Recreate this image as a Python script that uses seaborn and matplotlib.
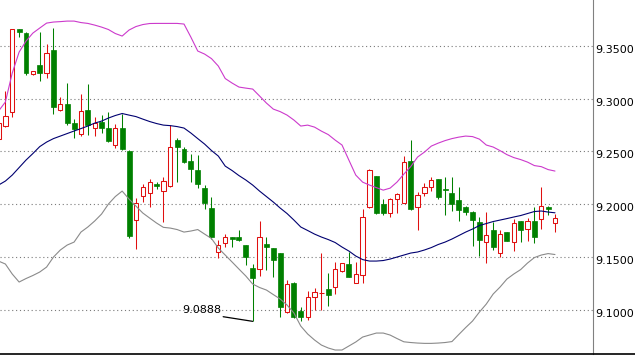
import pandas as pd
import numpy as np
import matplotlib
matplotlib.use('Agg')
import matplotlib.pyplot as plt
import matplotlib.transforms as mtransforms
import seaborn as sns

# candle data
opens = [9.2618, 9.2741, 9.2877, 9.3661, 9.3626, 9.3231, 9.3320, 9.3247, 9.3462, 9.2895,
         9.2950, 9.2766, 9.2665, 9.2893, 9.2719, 9.2776, 9.2719, 9.2560, 9.2719, 9.2504,
         9.1849, 9.2077, 9.2102, 9.2188, 9.2124, 9.2172, 9.2608, 9.2523, 9.2409, 9.2323,
         9.2150, 9.1966, 9.1548, 9.1628, 9.1687, 9.1687, 9.1612, 9.1390, 9.1381, 9.1621,
         9.1580, 9.1533, 9.0979, 9.1254, 9.0986, 9.0932, 9.1121, 9.1154, 9.1192, 9.1216,
         9.1365, 9.1432, 9.1254, 9.1327, 9.1975, 9.2266, 9.1998, 9.1918, 9.2045, 9.2013,
         9.2409, 9.1975, 9.2102, 9.2159, 9.2238, 9.2141, 9.2102, 9.2039, 9.1975, 9.1925,
         9.1827, 9.1643, 9.1754, 9.1533, 9.1738, 9.1643, 9.1839, 9.1760, 9.1839, 9.1855,
         9.1975, 9.1817]
highs = [9.2874, 9.3073, 9.3665, 9.3665, 9.3630, 9.3266, 9.3636, 9.3519, 9.3668, 9.3013,
         9.3146, 9.2804, 9.3042, 9.3139, 9.2829, 9.2845, 9.2871, 9.2760, 9.2855, 9.2513,
         9.2055, 9.2188, 9.2235, 9.2212, 9.2254, 9.2750, 9.2630, 9.2545, 9.2475, 9.2466,
         9.2181, 9.2064, 9.1659, 9.1713, 9.1690, 9.1754, 9.1615, 9.1432, 9.1842, 9.1690,
         9.1585, 9.1540, 9.1280, 9.1264, 9.1020, 9.1175, 9.1201, 9.1533, 9.1343, 9.1447,
         9.1445, 9.1548, 9.1447, 9.1950, 9.2330, 9.2270, 9.2048, 9.2055, 9.2108, 9.2456,
         9.2608, 9.2112, 9.2203, 9.2254, 9.2242, 9.2254, 9.2254, 9.2159, 9.1978, 9.1934,
         9.1880, 9.1928, 9.1833, 9.1754, 9.1740, 9.1855, 9.1842, 9.1865, 9.1975, 9.2165,
         9.1980, 9.1906]
lows = [9.2599, 9.2731, 9.2829, 9.3588, 9.3225, 9.3222, 9.3171, 9.3199, 9.2852, 9.2887,
        9.2748, 9.2630, 9.2646, 9.2655, 9.2649, 9.2677, 9.2592, 9.2529, 9.2513, 9.1675,
        9.1571, 9.2023, 9.1970, 9.2143, 9.1827, 9.2159, 9.2212, 9.2393, 9.2212, 9.2150,
        9.1950, 9.1666, 9.1485, 9.1595, 9.1595, 9.1652, 9.1422, 9.0888, 9.1320, 9.1375,
        9.1311, 9.0926, 9.0967, 9.0916, 9.0895, 9.0898, 9.0995, 9.0995, 9.1036, 9.1147,
        9.1360, 9.1305, 9.1250, 9.1248, 9.1963, 9.1906, 9.1896, 9.1880, 9.1918, 9.2007,
        9.1945, 9.1754, 9.2077, 9.2127, 9.2048, 9.1896, 9.1937, 9.1842, 9.1896, 9.1607,
        9.1507, 9.1438, 9.1564, 9.1495, 9.1650, 9.1557, 9.1643, 9.1649, 9.1633, 9.1766,
        9.1893, 9.1738]
closes = [9.2769, 9.2836, 9.3661, 9.3636, 9.3241, 9.3263, 9.3247, 9.3436, 9.2924, 9.2947,
          9.2766, 9.2712, 9.2883, 9.2750, 9.2772, 9.2719, 9.2601, 9.2719, 9.2523, 9.1700,
          9.2013, 9.2159, 9.2207, 9.2174, 9.2219, 9.2545, 9.2545, 9.2402, 9.2333, 9.2188,
          9.2007, 9.1690, 9.1609, 9.1690, 9.1666, 9.1659, 9.1500, 9.1296, 9.1690, 9.1595,
          9.1469, 9.1020, 9.1239, 9.0932, 9.0932, 9.1121, 9.1163, 9.1160, 9.1137, 9.1381,
          9.1438, 9.1311, 9.1336, 9.1875, 9.2323, 9.1912, 9.1915, 9.2045, 9.2096, 9.2396,
          9.1950, 9.2086, 9.2159, 9.2229, 9.2070, 9.2136, 9.2001, 9.1944, 9.1928, 9.1852,
          9.1659, 9.1706, 9.1595, 9.1716, 9.1652, 9.1817, 9.1754, 9.1842, 9.1690, 9.1982,
          9.1950, 9.1865]

# bollinger bands
upper = [9.2883, 9.2969, 9.3244, 9.3443, 9.3547, 9.3623, 9.3671, 9.3718, 9.3728, 9.3732,
         9.3737, 9.3737, 9.3723, 9.3715, 9.3699, 9.3680, 9.3657, 9.3619, 9.3595, 9.3652,
         9.3685, 9.3704, 9.3714, 9.3715, 9.3715, 9.3715, 9.3715, 9.3709, 9.3585, 9.3453,
         9.3424, 9.3381, 9.3310, 9.3192, 9.3149, 9.3111, 9.3101, 9.3092, 9.3026, 9.2959,
         9.2902, 9.2878, 9.2845, 9.2798, 9.2741, 9.2750, 9.2731, 9.2693, 9.2660, 9.2608,
         9.2561, 9.2418, 9.2276, 9.2209, 9.2181, 9.2157, 9.2133, 9.2152, 9.2209, 9.2285,
         9.2356, 9.2447, 9.2494, 9.2551, 9.2579, 9.2603, 9.2622, 9.2636, 9.2646, 9.2641,
         9.2617, 9.2561, 9.2542, 9.2508, 9.2470, 9.2442, 9.2423, 9.2399, 9.2366, 9.2356,
         9.2328, 9.2314]
middle = [9.2181, 9.2219, 9.2276, 9.2347, 9.2418, 9.2480, 9.2546, 9.2589, 9.2622, 9.2646,
          9.2670, 9.2694, 9.2717, 9.2741, 9.2769, 9.2788, 9.2817, 9.2841, 9.2860, 9.2845,
          9.2831, 9.2807, 9.2784, 9.2765, 9.2750, 9.2745, 9.2736, 9.2722, 9.2675, 9.2622,
          9.2570, 9.2509, 9.2456, 9.2361, 9.2319, 9.2271, 9.2229, 9.2181, 9.2124, 9.2072,
          9.2020, 9.1963, 9.1911, 9.1849, 9.1783, 9.1750, 9.1716, 9.1688, 9.1664, 9.1636,
          9.1593, 9.1555, 9.1508, 9.1474, 9.1460, 9.1460, 9.1465, 9.1479, 9.1498, 9.1517,
          9.1536, 9.1546, 9.1565, 9.1588, 9.1617, 9.1640, 9.1669, 9.1702, 9.1735, 9.1764,
          9.1797, 9.1816, 9.1835, 9.1849, 9.1863, 9.1878, 9.1892, 9.1911, 9.1930, 9.1935,
          9.1925, 9.1918]
lower = [9.1460, 9.1432, 9.1337, 9.1261, 9.1294, 9.1323, 9.1356, 9.1403, 9.1498, 9.1565,
         9.1612, 9.1640, 9.1735, 9.1783, 9.1840, 9.1906, 9.2001, 9.2072, 9.2124, 9.2048,
         9.1982, 9.1916, 9.1868, 9.1821, 9.1780, 9.1773, 9.1759, 9.1735, 9.1745, 9.1759,
         9.1716, 9.1674, 9.1583, 9.1517, 9.1451, 9.1384, 9.1318, 9.1242, 9.1209, 9.1185,
         9.1142, 9.1100, 9.1043, 9.0967, 9.0843, 9.0768, 9.0711, 9.0663, 9.0635, 9.0616,
         9.0616, 9.0654, 9.0692, 9.0739, 9.0758, 9.0777, 9.0777, 9.0758, 9.0725, 9.0694,
         9.0687, 9.0682, 9.0679, 9.0679, 9.0682, 9.0687, 9.0696, 9.0763, 9.0829, 9.0891,
         9.0976, 9.1052, 9.1147, 9.1213, 9.1289, 9.1337, 9.1379, 9.1441, 9.1493, 9.1517,
         9.1531, 9.1522]

yticks = [9.10, 9.15, 9.20, 9.25, 9.30, 9.35, 9.40]
low_label_idx = 37

UP = '#e01010'
DOWN = '#008000'

sns.set_style('white')
plt.rcParams['font.family'] = ['DejaVu Sans']

fig = plt.figure(figsize=(6.35, 3.56), dpi=100)
ax = fig.add_axes([0, 2.3 / 356, 592.7 / 635, 363.7 / 356])

idx = np.arange(len(opens))
o = np.array(opens); c = np.array(closes)
h = np.array(highs); l = np.array(lows)
up = c >= o

# gridlines
for v in yticks:
    ax.axhline(v, color='#7a7a7a', lw=0.8, ls=(0, (1, 2.5)), zorder=0)

# wicks
ax.vlines(idx[up], l[up], h[up], color=UP, lw=0.75, zorder=2)
ax.vlines(idx[~up], l[~up], h[~up], color=DOWN, lw=0.75, zorder=2)

# bodies
ax.bar(idx[up], np.maximum(c[up] - o[up], 0.0003), bottom=o[up], width=0.62,
       facecolor='white', edgecolor=UP, linewidth=0.75, zorder=3)
ax.bar(idx[~up], np.maximum(o[~up] - c[~up], 0.0003), bottom=c[~up], width=0.72,
       facecolor=DOWN, edgecolor=DOWN, linewidth=0.5, zorder=3)

# bands
bands = pd.DataFrame({
    'idx': np.tile(idx, 3),
    'value': upper + middle + lower,
    'band': ['upper'] * len(upper) + ['middle'] * len(middle) + ['lower'] * len(lower),
})
sns.lineplot(data=bands, x='idx', y='value', hue='band',
             palette={'upper': '#cc3acc', 'middle': '#000070', 'lower': '#8a8a8a'},
             linewidth=0.8, legend=False, ax=ax, zorder=4)

# low annotation
ax.annotate('', xy=(low_label_idx, lows[low_label_idx]), xytext=(32.7, 9.0932),
            arrowprops=dict(arrowstyle='-', color='black', lw=0.9, shrinkA=0, shrinkB=0),
            zorder=5)
ax.text(32.45, 9.0964, f'{lows[low_label_idx]:.4f}', ha='right', va='baseline',
        fontsize=8, color='black', zorder=5)

ax.set_xlim(0.218, 86.49)
ax.set_ylim(9.0581, 9.4032)
ax.set_xlabel('')
ax.set_ylabel('')
ax.set_xticks([])
ax.yaxis.tick_right()
ax.set_yticks(yticks)
ax.set_yticklabels([f'{v:.4f}' for v in yticks])
ax.tick_params(axis='y', length=0, pad=2, labelsize=8, labelcolor='black')
offset = mtransforms.ScaledTranslation(0, -3 / 100, fig.dpi_scale_trans)
for lbl in ax.get_yticklabels():
    lbl.set_transform(lbl.get_transform() + offset)

for s in ['left', 'top', 'bottom']:
    ax.spines[s].set_visible(False)
ax.spines['right'].set_color('#808080')
ax.spines['right'].set_linewidth(0.8)

# bottom frame line runs under the price scale too
fig.add_artist(plt.Line2D([0, 1], [2.3 / 356, 2.3 / 356], transform=fig.transFigure,
                          color='black', lw=1.2))

fig.savefig('out.png', dpi=100, facecolor='white')
